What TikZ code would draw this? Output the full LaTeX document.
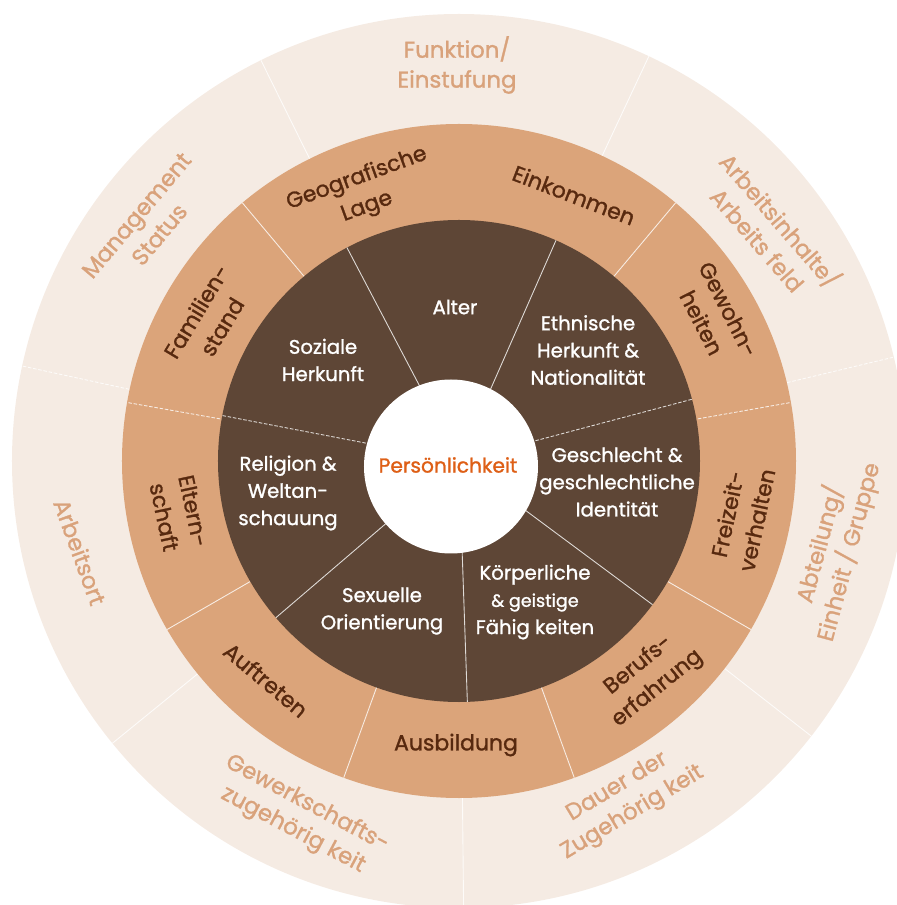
\documentclass[tikz,border=0pt]{standalone}
\usepackage{fontspec}
\setmainfont{Poppins}[FakeBold=1.2]
\usepackage{xcolor}
\usepackage{tikz}
\definecolor{ringLight}{HTML}{F5EBE3}
\definecolor{ringTan}{HTML}{DBA47A}
\definecolor{ringDark}{HTML}{5E4636}
\definecolor{textTan}{HTML}{D9A27B}
\definecolor{textBrown}{HTML}{57290F}
\definecolor{textOrange}{HTML}{DE5F16}

\begin{document}
\begin{tikzpicture}[
        outerlabel/.style={text=textTan, font=\fontsize{13}{17}\selectfont, align=center},
        middlelabel/.style={text=textBrown, font=\fontsize{12.5}{17}\selectfont, align=center},
        innerlabel/.style={text=white, font=\fontsize{11.2}{15.5}\selectfont, align=center},
        corelabel/.style={text=textOrange, font=\fontsize{11.5}{15.5}\selectfont},
        divider/.style={draw=white, line width=0.5pt, opacity=0.8},
        dashdivider/.style={divider, dash pattern=on 2pt off 1pt}
    ]
        \useasboundingbox (-9.18,-8.88) rectangle (8.74,9.22);

        % outer ring: work related
        \fill[ringLight] (0,0) circle (8.94);
        \draw[divider] (0,0) -- (116.3:8.94) (0,0) -- (64.87:8.94) (0,0) -- (-37.99:8.94)
            (0,0) -- (-89.41:8.94) (0,0) -- (-140.84:8.94);
        \draw[dashdivider] (0,0) -- (13.44:8.94) (0,0) -- (167.73:8.94);

        % middle ring: external
        \fill[ringTan] (0,0) circle (6.74);
        \draw[divider] (0,0) -- (130:6.74) (0,0) -- (50:6.74) (0,0) -- (-30:6.74)
            (0,0) -- (-70:6.74) (0,0) -- (-110:6.74) (0,0) -- (-150:6.74);
        \draw[dashdivider] (0,0) -- (10:6.74) (0,0) -- (170:6.74);

        % inner ring: internal
        \fill[ringDark] (0,0) circle (4.82);
        \draw[divider] (0,0) -- (117.7:4.82) (0,0) -- (66.27:4.82) (0,0) -- (-36.59:4.82)
            (0,0) -- (-88.01:4.82) (0,0) -- (-139.44:4.82);
        \draw[dashdivider] (0,0) -- (14.84:4.82) (0,0) -- (169.13:4.82);

        \fill[white] (-0.16,-0.11) circle (1.74);

        \node[corelabel] (persoenlichkeit) at (-0.22,-0.08) {Persönlichkeit};

        \node[innerlabel] (alter) at (-0.08,3.08) {Alter};
        \node[innerlabel] (ethnie) at (2.58,2.22) {Ethnische\\Herkunft \&\\Nationalität};
        \node[innerlabel] (geschlecht) at (3.16,-0.42) {Geschlecht \&\\geschlechtliche\\Identität};
        \node[innerlabel] (faehigkeit) at (1.52,-2.82) {Körperliche\\{\fontsize{10}{15.5}\selectfont\& geistige}\\Fähig keiten};
        \node[innerlabel] (orientierung) at (-1.54,-3.0) {Sexuelle\\Orientierung};
        \node[innerlabel] (religion) at (-3.42,-0.64) {Religion \&\\Weltan-\\schauung};
        \node[innerlabel] (herkunft) at (-2.72,2.02) {Soziale\\Herkunft};

        \node[middlelabel, rotate=20] (lage) at (-1.94,5.36) {Geografische\\Lage};
        \node[middlelabel, rotate=-21] (einkommen) at (2.30,5.32) {Einkommen};
        \node[middlelabel, rotate=-63] (gewohnheiten) at (5.12,2.9) {Gewohn-\\heiten};
        \node[middlelabel, rotate=78] (freizeit) at (5.66,-1.12) {Freizeit-\\verhalten};
        \node[middlelabel, rotate=39] (beruf) at (3.78,-4.32) {Berufs-\\erfahrung};
        \node[middlelabel] (ausbildung) at (-0.06,-5.68) {Ausbildung};
        \node[middlelabel, rotate=-40] (auftreten) at (-3.86,-4.38) {Auftreten};
        \node[middlelabel, rotate=-78] (elternschaft) at (-5.6,-1.06) {Eltern-\\schaft};
        \node[middlelabel, rotate=59] (familienstand) at (-5.0,2.84) {Familien-\\stand};

        \node[outerlabel] (funktion) at (-0.04,7.92) {Funktion/\\Einstufung};
        \node[outerlabel, rotate=-49] (arbeitsfeld) at (6.22,4.64) {Arbeitsinhalte/\\Arbeits feld};
        \node[outerlabel, rotate=75] (abteilung) at (7.5,-1.74) {Abteilung/\\Einheit / Gruppe};
        \node[outerlabel, rotate=31] (dauer) at (3.32,-6.78) {Dauer der\\Zugehörig keit};
        \node[outerlabel, rotate=-28] (gewerkschaft) at (-3.18,-7.12) {Gewerkschafts-\\zugehörig keit};
        \node[outerlabel, rotate=-70] (arbeitsort) at (-7.58,-1.82) {Arbeitsort};
        \node[outerlabel, rotate=50] (management) at (-6.22,4.72) {Management\\Status};
    \end{tikzpicture}
\end{document}
